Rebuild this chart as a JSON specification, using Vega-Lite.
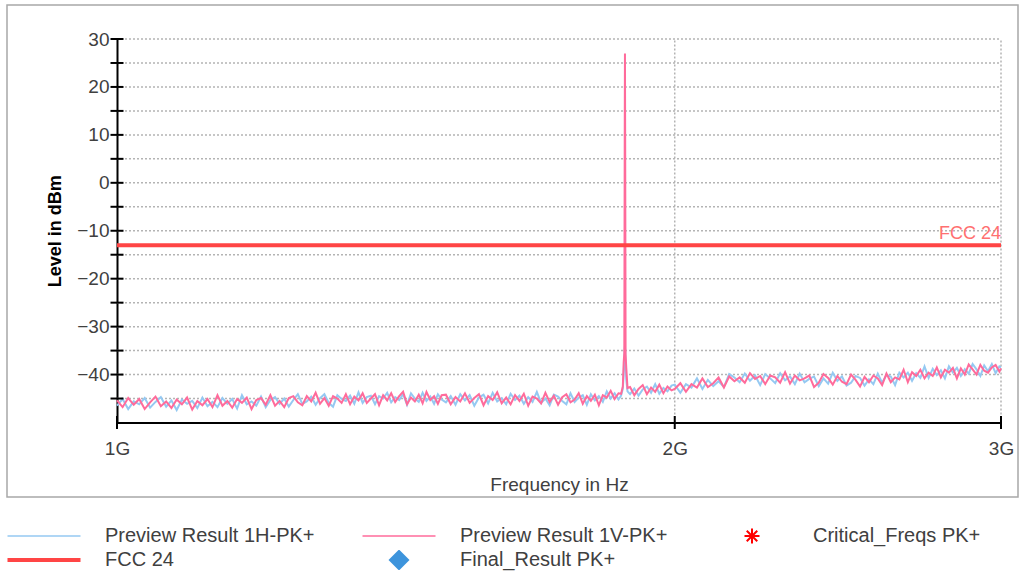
{
  "$schema": "https://vega.github.io/schema/vega-lite/v6.json",
  "autosize": {"type": "none"},
  "padding": {"left": 7, "top": 5, "right": 8, "bottom": 78},
  "width": 1011,
  "height": 492,
  "config": {
    "font": "Liberation Sans",
    "view": {"stroke": "#a8a8a8", "strokeWidth": 1.5},
    "axis": {"labelColor": "#404040", "labelFontSize": 19, "labelFont": "Liberation Sans", "titleFont": "Liberation Sans", "grid": false}
  },
  "datasets": {
    "trace": [
      {"f":1.000,"h":-46.5,"v":-45.4},{"f":1.007,"h":-45.1,"v":-46.8},{"f":1.014,"h":-47.2,"v":-44.9},{"f":1.021,"h":-45.6,"v":-46.3},
      {"f":1.028,"h":-46.2,"v":-45.1},{"f":1.035,"h":-44.9,"v":-47.2},{"f":1.042,"h":-46.9,"v":-45.8},{"f":1.049,"h":-45.7,"v":-44.6},
      {"f":1.056,"h":-44.7,"v":-46.6},{"f":1.063,"h":-46.7,"v":-45.6},{"f":1.070,"h":-45.4,"v":-47.0},{"f":1.077,"h":-47.4,"v":-45.2},
      {"f":1.084,"h":-45.2,"v":-46.2},{"f":1.091,"h":-46.1,"v":-44.8},{"f":1.098,"h":-45.5,"v":-47.3},{"f":1.105,"h":-47.0,"v":-45.5},
      {"f":1.112,"h":-44.8,"v":-46.4},{"f":1.119,"h":-46.6,"v":-45.1},{"f":1.126,"h":-45.7,"v":-46.8},{"f":1.133,"h":-46.8,"v":-44.3},
      {"f":1.140,"h":-44.9,"v":-46.5},{"f":1.147,"h":-46.1,"v":-45.5},{"f":1.154,"h":-45.1,"v":-46.9},{"f":1.161,"h":-47.1,"v":-45.1},
      {"f":1.168,"h":-44.3,"v":-45.9},{"f":1.175,"h":-46.2,"v":-44.8},{"f":1.182,"h":-45.6,"v":-47.2},{"f":1.189,"h":-46.5,"v":-45.3},
      {"f":1.196,"h":-44.6,"v":-44.9},{"f":1.203,"h":-46.8,"v":-46.3},{"f":1.210,"h":-45.3,"v":-44.3},{"f":1.217,"h":-44.7,"v":-46.5},
      {"f":1.224,"h":-46.1,"v":-45.5},{"f":1.231,"h":-45.0,"v":-46.8},{"f":1.238,"h":-46.7,"v":-44.9},{"f":1.245,"h":-45.3,"v":-44.5},
      {"f":1.252,"h":-44.1,"v":-45.8},{"f":1.259,"h":-46.1,"v":-46.4},{"f":1.266,"h":-45.6,"v":-44.5},{"f":1.273,"h":-44.6,"v":-45.6},
      {"f":1.280,"h":-46.3,"v":-43.8},{"f":1.287,"h":-44.9,"v":-46.1},{"f":1.294,"h":-44.1,"v":-44.9},{"f":1.301,"h":-45.9,"v":-46.5},
      {"f":1.308,"h":-46.7,"v":-44.5},{"f":1.315,"h":-44.3,"v":-45.0},{"f":1.322,"h":-45.1,"v":-45.9},{"f":1.329,"h":-45.5,"v":-44.1},
      {"f":1.336,"h":-44.4,"v":-46.2},{"f":1.343,"h":-46.1,"v":-44.6},{"f":1.350,"h":-43.7,"v":-45.4},{"f":1.357,"h":-45.9,"v":-43.9},
      {"f":1.364,"h":-44.7,"v":-45.9},{"f":1.371,"h":-44.4,"v":-45.0},{"f":1.378,"h":-46.2,"v":-44.1},{"f":1.385,"h":-44.5,"v":-46.4},
      {"f":1.392,"h":-45.0,"v":-44.3},{"f":1.399,"h":-43.8,"v":-45.4},{"f":1.406,"h":-45.8,"v":-43.9},{"f":1.413,"h":-44.7,"v":-45.7},
      {"f":1.420,"h":-45.3,"v":-44.5},{"f":1.427,"h":-44.1,"v":-43.6},{"f":1.434,"h":-46.3,"v":-46.2},{"f":1.441,"h":-43.9,"v":-44.8},
      {"f":1.448,"h":-45.0,"v":-45.6},{"f":1.455,"h":-45.7,"v":-44.2},{"f":1.462,"h":-43.8,"v":-46.0},{"f":1.469,"h":-45.5,"v":-43.6},
      {"f":1.476,"h":-44.6,"v":-45.3},{"f":1.483,"h":-46.1,"v":-44.5},{"f":1.490,"h":-44.1,"v":-46.1},{"f":1.497,"h":-45.2,"v":-44.3},
      {"f":1.505,"h":-45.8,"v":-44.2},{"f":1.514,"h":-44.5,"v":-46.2},{"f":1.523,"h":-46.3,"v":-44.7},{"f":1.532,"h":-44.1,"v":-45.6},
      {"f":1.541,"h":-45.4,"v":-43.9},{"f":1.550,"h":-44.3,"v":-45.9},{"f":1.559,"h":-46.5,"v":-44.9},{"f":1.568,"h":-44.8,"v":-44.1},
      {"f":1.577,"h":-44.2,"v":-46.4},{"f":1.586,"h":-46.0,"v":-44.5},{"f":1.595,"h":-43.8,"v":-45.3},{"f":1.604,"h":-45.6,"v":-43.7},
      {"f":1.613,"h":-44.9,"v":-46.0},{"f":1.622,"h":-46.2,"v":-44.8},{"f":1.631,"h":-44.0,"v":-46.2},{"f":1.640,"h":-45.3,"v":-44.3},
      {"f":1.649,"h":-44.4,"v":-45.5},{"f":1.658,"h":-46.1,"v":-44.0},{"f":1.667,"h":-44.7,"v":-46.5},{"f":1.676,"h":-45.7,"v":-44.6},
      {"f":1.685,"h":-43.6,"v":-45.0},{"f":1.694,"h":-45.9,"v":-46.0},{"f":1.703,"h":-45.0,"v":-43.8},{"f":1.712,"h":-46.4,"v":-45.7},
      {"f":1.721,"h":-44.2,"v":-44.4},{"f":1.730,"h":-44.6,"v":-46.3},{"f":1.739,"h":-45.5,"v":-44.7},{"f":1.748,"h":-46.2,"v":-44.1},
      {"f":1.757,"h":-43.9,"v":-45.8},{"f":1.766,"h":-45.7,"v":-45.2},{"f":1.775,"h":-44.8,"v":-43.9},{"f":1.784,"h":-44.3,"v":-46.1},
      {"f":1.793,"h":-46.3,"v":-44.5},{"f":1.802,"h":-44.1,"v":-45.5},{"f":1.811,"h":-45.4,"v":-44.2},{"f":1.820,"h":-44.5,"v":-46.4},
      {"f":1.829,"h":-45.7,"v":-44.3},{"f":1.838,"h":-43.5,"v":-44.8},{"f":1.847,"h":-45.0,"v":-43.4},{"f":1.856,"h":-43.9,"v":-45.1},
      {"f":1.865,"h":-45.2,"v":-43.9},{"f":1.871,"h":-44.4,"v":-44.0},{"f":1.875,"h":-43.0,"v":-42.5},{"f":1.877,"h":-40.0,"v":-37.5},
      {"f":1.8785,"h":-36.5,"v":-35.5},{"f":1.8795,"h":-34.5,"v":10},{"f":1.880,"h":-34.0,"v":27},{"f":1.8805,"h":-35.0,"v":10},
      {"f":1.8815,"h":-37.5,"v":-35.8},{"f":1.883,"h":-41.0,"v":-38.5},{"f":1.886,"h":-43.5,"v":-42.8},
      {"f":1.892,"h":-44.1,"v":-42.6},{"f":1.902,"h":-42.9,"v":-44.3},{"f":1.912,"h":-44.4,"v":-43.0},{"f":1.922,"h":-43.1,"v":-42.2},
      {"f":1.932,"h":-42.5,"v":-44.1},{"f":1.942,"h":-43.8,"v":-42.7},{"f":1.952,"h":-42.0,"v":-43.6},{"f":1.962,"h":-44.0,"v":-42.1},
      {"f":1.972,"h":-42.8,"v":-43.9},{"f":1.982,"h":-43.5,"v":-42.5},{"f":1.992,"h":-42.3,"v":-43.3},
      {"f":2.000,"h":-42.1,"v":-43.0},{"f":2.014,"h":-43.8,"v":-41.8},{"f":2.028,"h":-42.0,"v":-43.6},{"f":2.042,"h":-42.7,"v":-42.0},
      {"f":2.056,"h":-40.8,"v":-42.7},{"f":2.070,"h":-43.0,"v":-40.8},{"f":2.084,"h":-41.1,"v":-42.6},{"f":2.098,"h":-42.4,"v":-41.8},
      {"f":2.112,"h":-41.4,"v":-40.6},{"f":2.126,"h":-42.6,"v":-42.7},{"f":2.140,"h":-39.9,"v":-40.4},{"f":2.154,"h":-40.6,"v":-41.4},
      {"f":2.168,"h":-41.6,"v":-40.6},{"f":2.182,"h":-39.8,"v":-41.7},{"f":2.196,"h":-41.3,"v":-39.7},{"f":2.210,"h":-40.2,"v":-40.9},
      {"f":2.224,"h":-42.2,"v":-40.3},{"f":2.238,"h":-39.9,"v":-42.0},{"f":2.252,"h":-40.8,"v":-40.2},{"f":2.266,"h":-41.8,"v":-40.6},
      {"f":2.280,"h":-39.7,"v":-41.7},{"f":2.294,"h":-41.2,"v":-39.5},{"f":2.308,"h":-40.4,"v":-41.9},{"f":2.322,"h":-42.0,"v":-40.2},
      {"f":2.336,"h":-39.8,"v":-41.2},{"f":2.350,"h":-41.6,"v":-40.8},{"f":2.364,"h":-40.9,"v":-40.2},{"f":2.378,"h":-40.4,"v":-42.6},
      {"f":2.392,"h":-42.4,"v":-41.7},{"f":2.406,"h":-40.8,"v":-39.9},{"f":2.420,"h":-41.9,"v":-40.7},{"f":2.434,"h":-39.6,"v":-42.1},
      {"f":2.448,"h":-41.3,"v":-40.3},{"f":2.462,"h":-40.4,"v":-41.5},{"f":2.476,"h":-42.3,"v":-42.0},{"f":2.490,"h":-41.7,"v":-40.0},
      {"f":2.504,"h":-40.3,"v":-41.1},{"f":2.518,"h":-40.7,"v":-42.5},{"f":2.532,"h":-42.3,"v":-40.5},{"f":2.546,"h":-41.0,"v":-41.6},
      {"f":2.560,"h":-42.0,"v":-40.2},{"f":2.574,"h":-39.8,"v":-40.8},{"f":2.588,"h":-41.7,"v":-42.2},{"f":2.602,"h":-40.1,"v":-39.8},
      {"f":2.616,"h":-40.4,"v":-41.6},{"f":2.630,"h":-42.2,"v":-40.6},{"f":2.644,"h":-39.6,"v":-41.0},{"f":2.658,"h":-40.6,"v":-39.0},
      {"f":2.672,"h":-39.6,"v":-41.6},{"f":2.686,"h":-41.3,"v":-39.5},{"f":2.700,"h":-39.7,"v":-40.3},{"f":2.714,"h":-40.7,"v":-39.0},
      {"f":2.728,"h":-38.3,"v":-40.8},{"f":2.742,"h":-40.7,"v":-39.6},{"f":2.756,"h":-38.8,"v":-40.3},{"f":2.770,"h":-40.1,"v":-38.5},
      {"f":2.784,"h":-39.1,"v":-40.6},{"f":2.798,"h":-40.8,"v":-39.0},{"f":2.812,"h":-38.3,"v":-39.6},{"f":2.826,"h":-39.6,"v":-38.6},
      {"f":2.840,"h":-38.6,"v":-40.8},{"f":2.854,"h":-40.3,"v":-38.7},{"f":2.868,"h":-38.9,"v":-40.0},{"f":2.882,"h":-39.8,"v":-37.9},
      {"f":2.896,"h":-37.8,"v":-38.9},{"f":2.910,"h":-38.9,"v":-40.0},{"f":2.924,"h":-40.3,"v":-38.0},{"f":2.938,"h":-38.1,"v":-39.2},
      {"f":2.952,"h":-39.3,"v":-39.6},{"f":2.966,"h":-37.8,"v":-38.5},{"f":2.980,"h":-39.7,"v":-38.0},{"f":2.994,"h":-38.3,"v":-39.4},
      {"f":3.000,"h":-38.5,"v":-38.7}
    ],
    "ygrid": [{"v":-45},{"v":-40},{"v":-35},{"v":-30},{"v":-25},{"v":-20},{"v":-15},{"v":-10},{"v":-5},{"v":0},{"v":5},{"v":10},{"v":15},{"v":20},{"v":25},{"v":30}],
    "xgrid": [{"f":2},{"f":3}],
    "xticks": [{"f":1},{"f":2},{"f":3}],
    "limit": [{"f1":1,"f2":3,"v":-13,"label":"FCC 24"}]
  },
  "layer": [
    {
      "data": {"name": "ygrid"},
      "mark": {"type": "rule", "color": "#b4b4b4", "strokeWidth": 1.5, "strokeDash": [2, 2]},
      "encoding": {
        "y": {"field": "v", "type": "quantitative", "scale": {"domain": [-50, 30], "range": [417.5, 34], "nice": false, "zero": false},
          "axis": {"orient": "left", "offset": -110, "values": [-50, -45, -40, -35, -30, -25, -20, -15, -10, -5, 0, 5, 10, 15, 20, 25, 30],
            "labelExpr": "datum.value % 10 == 0 && datum.value != -50 ? datum.label : ''", "ticks": false,
            "domainColor": "#000000", "domainWidth": 2, "labelPadding": 8,
            "title": "Level in dBm", "titleFontSize": 18, "titleFontWeight": "bold", "titleColor": "#000000", "titlePadding": 12}},
        "x": {"datum": 1, "type": "quantitative", "scale": {"type": "log", "domain": [1, 3], "range": [110, 994], "nice": false},
          "axis": {"orient": "bottom", "offset": -74.5, "values": [1, 2, 3], "labelExpr": "datum.value + 'G'", "ticks": false,
            "domainColor": "#000000", "domainWidth": 2, "labelPadding": 17, "labelFlush": false,
            "title": "Frequency in Hz", "titleFontSize": 19, "titleFontWeight": "normal", "titleColor": "#404040", "titlePadding": 17}},
        "x2": {"datum": 3}
      }
    },
    {
      "data": {"name": "xgrid"},
      "mark": {"type": "rule", "color": "#b4b4b4", "strokeWidth": 1.5, "strokeDash": [2, 2]},
      "encoding": {
        "x": {"field": "f", "type": "quantitative"},
        "y": {"datum": -50, "type": "quantitative"},
        "y2": {"datum": 30}
      }
    },
    {
      "data": {"name": "trace"},
      "mark": {"type": "line", "strokeWidth": 2, "interpolate": "linear"},
      "encoding": {
        "x": {"field": "f", "type": "quantitative"},
        "y": {"field": "h", "type": "quantitative"},
        "color": {"datum": "Preview Result 1H-PK+",
          "scale": {"domain": ["Preview Result 1H-PK+", "FCC 24", "Preview Result 1V-PK+", "Final_Result PK+", "Critical_Freqs PK+"],
                    "range": ["#95c9f2", "#ff4545", "#ff6b9b", "#3d94dc", "#ff0000"]},
          "legend": {
            "orient": "none", "legendX": 0, "legendY": 521, "columns": 3, "title": null,
            "symbolType": "stroke", "symbolSize": 5329, "symbolStrokeWidth": 1.5, "symbolOffset": 27,
            "labelFontSize": 20, "labelFont": "Liberation Sans", "labelColor": "#404040", "labelLimit": 400,
            "labelOffset": 51, "columnPadding": 47, "rowPadding": 4, "clipHeight": 20,
            "encode": {"symbols": {"update": {
              "shape": {"signal": "datum.value == 'Final_Result PK+' ? 'diamond' : datum.value == 'Critical_Freqs PK+' ? 'M0,-1L0,1M-1,0L1,0M-0.7,-0.7L0.7,0.7M-0.7,0.7L0.7,-0.7' : 'stroke'"},
              "size": {"signal": "datum.value == 'Final_Result PK+' ? 441 : datum.value == 'Critical_Freqs PK+' ? 225 : 5329"},
              "strokeWidth": {"signal": "datum.value == 'FCC 24' ? 4 : datum.value == 'Critical_Freqs PK+' ? 2 : datum.value == 'Final_Result PK+' ? 0 : 1.5"},
              "fill": {"signal": "datum.value == 'Final_Result PK+' ? '#3d94dc' : 'transparent'"},
              "stroke": {"signal": "datum.value == 'Final_Result PK+' ? '#3d94dc' : datum.value == 'Critical_Freqs PK+' ? '#ff0000' : datum.value == 'FCC 24' ? '#ff4545' : datum.value == 'Preview Result 1V-PK+' ? '#ff7aa2' : '#9fcff2'"},
              "opacity": {"value": 1}
            }}}
          }
        }
      }
    },
    {
      "data": {"name": "trace"},
      "mark": {"type": "line", "strokeWidth": 2, "interpolate": "linear"},
      "encoding": {
        "x": {"field": "f", "type": "quantitative"},
        "y": {"field": "v", "type": "quantitative"},
        "color": {"datum": "Preview Result 1V-PK+", "legend": null}
      }
    },
    {
      "data": {"name": "limit"},
      "mark": {"type": "rule", "color": "#ff4545", "strokeWidth": 4},
      "encoding": {
        "x": {"field": "f1", "type": "quantitative"},
        "x2": {"field": "f2"},
        "y": {"field": "v", "type": "quantitative"}
      }
    },
    {
      "data": {"name": "limit"},
      "mark": {"type": "text", "align": "right", "baseline": "bottom", "dy": -2, "fontSize": 18, "color": "#ff7070", "font": "Liberation Sans"},
      "encoding": {
        "x": {"field": "f2", "type": "quantitative"},
        "y": {"field": "v", "type": "quantitative"},
        "text": {"field": "label"}
      }
    },
    {
      "data": {"name": "ygrid"},
      "mark": {"type": "tick", "orient": "horizontal", "size": 13, "thickness": 2, "color": "#000000", "opacity": 1},
      "encoding": {
        "x": {"datum": 1, "type": "quantitative"},
        "y": {"field": "v", "type": "quantitative"}
      }
    },
    {
      "data": {"name": "xticks"},
      "mark": {"type": "tick", "orient": "vertical", "size": 13, "thickness": 2, "color": "#000000", "opacity": 1},
      "encoding": {
        "x": {"field": "f", "type": "quantitative"},
        "y": {"datum": -50, "type": "quantitative"}
      }
    }
  ]
}
